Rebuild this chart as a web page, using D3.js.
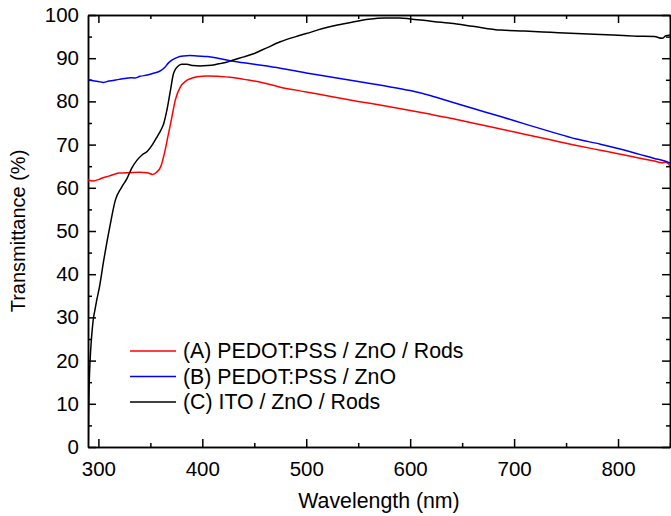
<!DOCTYPE html>
<html>
<head>
<meta charset="utf-8">
<script src="https://cdn.jsdelivr.net/npm/d3@7"></script>
<style>
  body { margin: 0; background: #fff; }
  svg { display: block; font-family: "Liberation Sans", Arial, sans-serif; }
  .axis path, .axis line { stroke: #000; stroke-width: 1.5; }
  .axis text { font-size: 20.5px; fill: #000; }
</style>
</head>
<body>
<svg width="671" height="516"></svg>
<script>
// series (A) PEDOT:PSS / ZnO / Rods
const wavelengthA = [290, 295, 300, 305, 310, 315, 320, 330, 340, 347, 352, 356, 360, 364, 367, 370, 374, 379, 384, 389, 395, 405, 415, 427, 440, 453, 475, 500, 525, 550, 575, 600, 620, 639, 660, 687, 710, 735, 760, 783, 800, 820, 835, 842, 846, 850];
const transA = [61.8, 61.6, 61.9, 62.4, 62.7, 63.1, 63.4, 63.5, 63.6, 63.5, 63.1, 63.6, 64.9, 68.5, 72, 75.5, 80.3, 83.4, 84.7, 85.3, 85.7, 85.9, 85.8, 85.6, 85.1, 84.6, 83.3, 82.2, 81.1, 80.0, 79.0, 77.9, 77.0, 76.1, 75.0, 73.6, 72.4, 71.1, 69.8, 68.7, 67.9, 66.9, 66.2, 65.8, 65.9, 65.1];

// series (B) PEDOT:PSS / ZnO
const wavelengthB = [290, 295, 300, 305, 310, 320, 325, 331, 335, 340, 347, 353, 360, 364, 367, 371, 376, 382, 388, 395, 405, 415, 427, 450, 475, 500, 525, 550, 575, 600, 620, 639, 660, 687, 710, 735, 760, 783, 800, 820, 835, 845, 850];
const transB = [85.1, 84.8, 84.6, 84.4, 84.7, 85.1, 85.3, 85.5, 85.4, 85.8, 86.1, 86.5, 87.1, 87.9, 88.8, 89.6, 90.2, 90.5, 90.6, 90.5, 90.4, 90.0, 89.4, 88.6, 87.7, 86.6, 85.6, 84.6, 83.6, 82.5, 81.3, 79.9, 78.4, 76.5, 74.8, 73.0, 71.3, 70.1, 69.1, 67.8, 66.8, 66.2, 65.7];

// series (C) ITO / ZnO / Rods
const wavelengthC = [290.2, 290.6, 291.2, 292, 293, 294, 295, 296.5, 298.4, 301, 305, 311, 316.4, 322, 327.6, 332, 337.2, 342, 346.9, 352, 356.5, 360, 362.9, 365.5, 367.7, 370, 371.9, 374, 376, 380, 385, 391, 398, 405, 412, 418, 424, 430, 440, 450, 462, 475, 490, 500, 515, 530, 545, 560, 575, 590, 600, 615, 630, 639, 660, 687, 710, 735, 760, 783, 800, 818, 835, 842.5, 846, 850];
const transC = [0, 8, 15, 20, 24, 27, 29.4, 31.5, 34, 37, 43, 51, 57.2, 60, 62.2, 64.5, 66.4, 67.6, 68.4, 70, 71.8, 73.3, 74.9, 77.5, 80.3, 83.5, 86.1, 87.4, 88.0, 88.6, 88.6, 88.3, 88.2, 88.3, 88.5, 88.8, 89.1, 89.6, 90.3, 91.1, 92.4, 93.8, 95.0, 95.7, 96.8, 97.7, 98.4, 99.0, 99.3, 99.3, 99.1, 98.7, 98.3, 98.1, 97.4, 96.5, 96.3, 96.0, 95.7, 95.5, 95.3, 95.1, 95.0, 94.6, 95.2, 95.4];

const seriesNames = ["(A) PEDOT:PSS / ZnO / Rods", "(B) PEDOT:PSS / ZnO", "(C) ITO / ZnO / Rods"];
const seriesColors = ["#ff0000", "#0000ff", "#000000"];

const xTicks = [300, 400, 500, 600, 700, 800];
const yTicks = [0, 10, 20, 30, 40, 50, 60, 70, 80, 90, 100];

// chart dimensions
const margin = { top: 15, right: 1, bottom: 69, left: 88 };
const width = 671 - margin.left - margin.right;
const height = 516 - margin.top - margin.bottom;

const x = d3.scaleLinear().domain([290, 850]).range([0, width]);
const y = d3.scaleLinear().domain([0, 100]).range([height, 0]);

const svg = d3.select("svg")
  .append("g")
  .attr("transform", "translate(" + margin.left + "," + margin.top + ")");

svg.append("clipPath")
  .attr("id", "plot-clip")
  .append("rect")
  .attr("width", width)
  .attr("height", height);

// minor ticks
const xMinor = d3.range(300, 851, 50).filter(d => xTicks.indexOf(d) < 0);
const yMinor = d3.range(5, 100, 10);

svg.append("g").attr("class", "axis")
  .attr("transform", "translate(0," + height + ")")
  .call(d3.axisBottom(x).tickValues(xMinor).tickSize(-4).tickSizeOuter(0).tickFormat(""));
svg.append("g").attr("class", "axis")
  .call(d3.axisTop(x).tickValues(xMinor).tickSize(-4).tickSizeOuter(0).tickFormat(""));
svg.append("g").attr("class", "axis")
  .call(d3.axisLeft(y).tickValues(yMinor).tickSize(-4).tickSizeOuter(0).tickFormat(""));
svg.append("g").attr("class", "axis")
  .attr("transform", "translate(" + width + ",0)")
  .call(d3.axisRight(y).tickValues(yMinor).tickSize(-4).tickSizeOuter(0).tickFormat(""));

// major axes
svg.append("g").attr("class", "axis")
  .attr("transform", "translate(0," + height + ")")
  .call(d3.axisBottom(x).tickValues(xTicks).tickSize(-8).tickSizeOuter(0).tickPadding(14));
svg.append("g").attr("class", "axis")
  .call(d3.axisTop(x).tickValues(xTicks).tickSize(-8).tickSizeOuter(0).tickFormat(""));
svg.append("g").attr("class", "axis")
  .call(d3.axisLeft(y).tickValues(yTicks).tickSize(-8).tickSizeOuter(0).tickPadding(9));
svg.append("g").attr("class", "axis")
  .attr("transform", "translate(" + width + ",0)")
  .call(d3.axisRight(y).tickValues(yTicks).tickSize(-8).tickSizeOuter(0).tickFormat(""));

// lines
const line = d3.line()
  .x(d => x(d[0]))
  .y(d => y(d[1]))
  .curve(d3.curveMonotoneX);

const series = [
  d3.zip(wavelengthA, transA),
  d3.zip(wavelengthB, transB),
  d3.zip(wavelengthC, transC)
];

svg.append("g")
  .attr("clip-path", "url(#plot-clip)")
  .selectAll("path")
  .data(series)
  .enter()
  .append("path")
  .attr("d", line)
  .attr("fill", "none")
  .attr("stroke", (d, i) => seriesColors[i])
  .attr("stroke-width", 1.5);

// legend
const legend = svg.append("g")
  .attr("transform", "translate(" + (130 - margin.left) + "," + (351 - margin.top) + ")");
seriesNames.forEach((name, i) => {
  const row = legend.append("g").attr("transform", "translate(0," + (i * 25.5) + ")");
  row.append("line")
    .attr("x1", 0).attr("x2", 46)
    .attr("stroke", seriesColors[i])
    .attr("stroke-width", 1.5);
  row.append("text")
    .attr("x", 53)
    .attr("dy", "0.35em")
    .attr("font-size", "21.3px")
    .text(name);
});

// axis titles
svg.append("text")
  .attr("x", width / 2)
  .attr("y", height + 61)
  .attr("text-anchor", "middle")
  .attr("font-size", "21.3px")
  .text("Wavelength (nm)");

svg.append("text")
  .attr("transform", "translate(" + (25 - margin.left) + "," + (height / 2) + ") rotate(-90)")
  .attr("text-anchor", "middle")
  .attr("font-size", "20px")
  .text("Transmittance (%)");
</script>
</body>
</html>
